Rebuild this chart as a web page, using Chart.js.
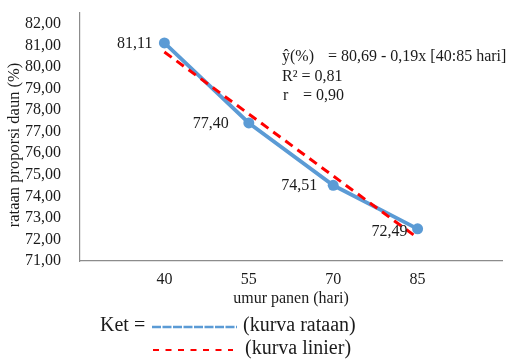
<!DOCTYPE html>
<html>
<head>
<meta charset="utf-8">
<script src="https://cdn.jsdelivr.net/npm/chart.js@4/dist/chart.umd.min.js"></script>
<style>
  html, body { margin: 0; padding: 0; background: #fff; }
  #wrap { width: 511px; height: 359px; position: relative; }
</style>
</head>
<body>
<div id="wrap"><canvas id="c"></canvas></div>
<script>
// Harvest age (days) and mean leaf proportion (%)
const umurPanen = [40, 55, 70, 85];
const rataanDaun = [81.11, 77.40, 74.51, 72.49];
// Fitted linear curve endpoints
const linierX = [40, 85];
const linierY = [80.69, 72.07];
// Axis tick values
const xTickValues = [40, 55, 70, 85];
const yTickMin = 71, yTickMax = 82;
// Regression text
const persamaan = ['ŷ(%)', '= 80,69 - 0,19x [40:85 hari]'];
const koefR2 = ['R² = 0,81'];
const koefR = ['r', '= 0,90'];
const judulY = 'rataan proporsi daun (%)';

const SERIF = '"Liberation Serif", "Times New Roman", serif';
const TEXT = '#1b1b1b';
const BLUE = '#5b9bd5';
const RED = '#ff0000';

const fmt = v => Number(v).toFixed(2).replace('.', ',');

// Per-point label shifts (left of marker)
const labelShift = [[-12, 1], [-20, 1], [-16, 0], [-10, 3]];

const labelsPlugin = {
  id: 'pointLabels',
  afterDatasetsDraw(chart) {
    const ctx = chart.ctx;
    const meta = chart.getDatasetMeta(1);
    ctx.save();
    ctx.font = '16px ' + SERIF;
    ctx.fillStyle = TEXT;
    ctx.textAlign = 'right';
    ctx.textBaseline = 'middle';
    meta.data.forEach((pt, i) => {
      const s = labelShift[i];
      ctx.fillText(fmt(rataanDaun[i]), pt.x + s[0], pt.y + s[1]);
    });
    ctx.restore();
  }
};

const notesPlugin = {
  id: 'notes',
  afterDraw(chart) {
    const ctx = chart.ctx;
    ctx.save();
    ctx.fillStyle = TEXT;

    // vertical axis title, sitting over the tick labels
    ctx.save();
    ctx.translate(15, 145);
    ctx.rotate(-Math.PI / 2);
    ctx.font = '16.5px ' + SERIF;
    ctx.textAlign = 'center';
    ctx.textBaseline = 'middle';
    ctx.fillText(judulY, 0, 0);
    ctx.restore();

    ctx.textBaseline = 'middle';
    ctx.textAlign = 'left';
    // regression equation block
    ctx.font = '16px ' + SERIF;
    ctx.fillText(persamaan[0], 282, 57);
    ctx.fillText(persamaan[1], 328, 57);
    ctx.fillText(koefR2[0], 282, 77);
    ctx.fillText(koefR[0], 283, 96);
    ctx.fillText(koefR[1], 303, 96);

    // key below the chart
    ctx.font = '20px ' + SERIF;
    ctx.fillText('Ket =', 100, 326);
    ctx.fillText('(kurva rataan)', 243, 326);
    ctx.fillText('(kurva linier)', 245, 349);

    ctx.lineCap = 'butt';
    ctx.strokeStyle = BLUE;
    ctx.lineWidth = 2.5;
    ctx.setLineDash([9, 1.5]);
    ctx.beginPath();
    ctx.moveTo(152, 327);
    ctx.lineTo(237, 327);
    ctx.stroke();

    ctx.strokeStyle = RED;
    ctx.lineWidth = 2;
    ctx.setLineDash([6, 6.5]);
    ctx.beginPath();
    ctx.moveTo(153, 350);
    ctx.lineTo(233, 350);
    ctx.stroke();
    ctx.restore();
  }
};

new Chart(document.getElementById('c'), {
  type: 'scatter',
  data: {
    datasets: [
      {
        label: 'kurva linier',
        data: linierX.map((x, i) => ({ x, y: linierY[i] })),
        showLine: true,
        borderColor: RED,
        borderWidth: 3,
        borderDash: [9, 6],
        pointRadius: 0,
        fill: false,
        order: 0
      },
      {
        label: 'kurva rataan',
        data: umurPanen.map((x, i) => ({ x, y: rataanDaun[i] })),
        showLine: true,
        borderColor: BLUE,
        backgroundColor: BLUE,
        borderWidth: 3.8,
        pointRadius: 5.5,
        pointBackgroundColor: BLUE,
        pointBorderWidth: 0,
        fill: false,
        order: 1
      }
    ]
  },
  options: {
    responsive: true,
    maintainAspectRatio: false,
    animation: false,
    events: [],
    layout: { padding: { left: 0, right: 9, top: 13, bottom: 51 } },
    plugins: { legend: { display: false }, tooltip: { enabled: false } },
    scales: {
      x: {
        type: 'linear',
        min: 25,
        max: 100,
        grid: { display: false, drawTicks: false },
        border: { display: true, color: '#8c8c8c', width: 1.2 },
        afterBuildTicks: s => { s.ticks = xTickValues.map(v => ({ value: v })); },
        afterFit: s => { s.height = 47; s.paddingLeft = 0; s.paddingRight = 0; },
        ticks: {
          color: TEXT,
          font: { family: SERIF, size: 16 },
          padding: 9,
          maxRotation: 0,
          callback: v => String(v)
        },
        title: {
          display: true,
          text: 'umur panen (hari)',
          color: TEXT,
          font: { family: SERIF, size: 16 },
          padding: { top: 0, bottom: 0 }
        }
      },
      y: {
        min: yTickMin,
        max: 82.5,
        grid: { display: false, drawTicks: false },
        border: { display: true, color: '#8c8c8c', width: 1.2 },
        afterBuildTicks: s => {
          const t = [];
          for (let v = yTickMin; v <= yTickMax; v++) t.push({ value: v });
          s.ticks = t;
        },
        afterFit: s => { s.width = 80; s.paddingTop = 0; s.paddingBottom = 0; },
        ticks: {
          color: TEXT,
          font: { family: SERIF, size: 16 },
          padding: 19,
          callback: v => fmt(v)
        },
        title: { display: false }
      }
    }
  },
  plugins: [labelsPlugin, notesPlugin]
});
</script>
</body>
</html>
